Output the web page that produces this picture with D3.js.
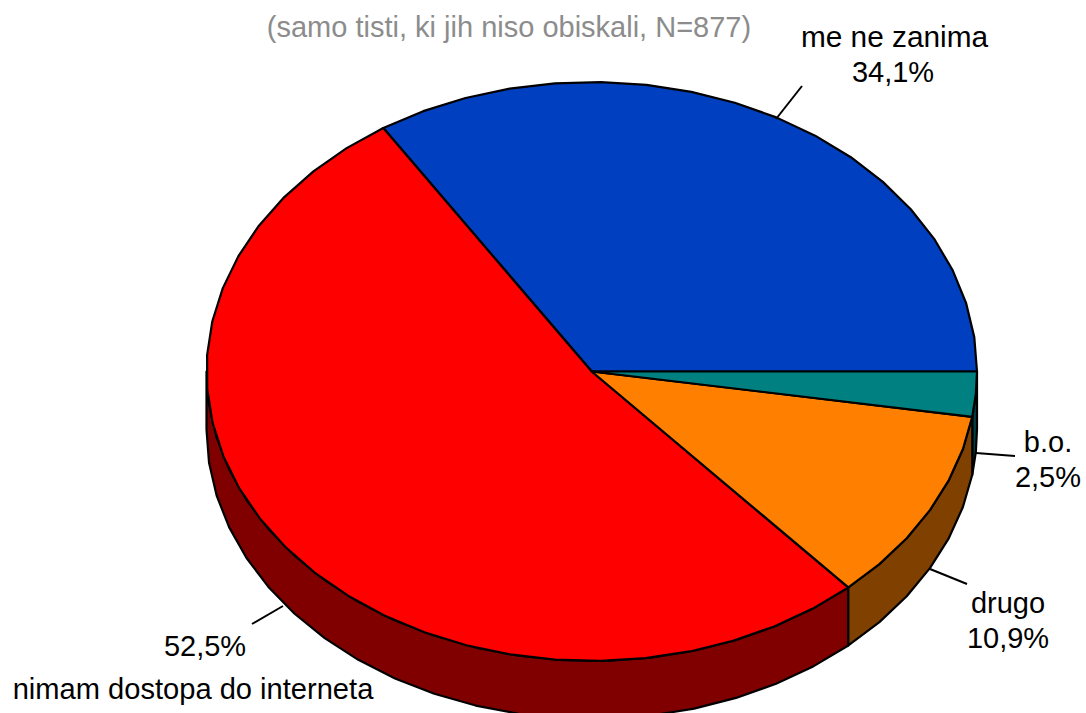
<!DOCTYPE html>
<html><head><meta charset="utf-8">
<script src="https://cdnjs.cloudflare.com/ajax/libs/d3/7.8.5/d3.min.js"></script>
<style>html,body{margin:0;padding:0;background:#fff}svg{display:block}text{font-family:"Liberation Sans",Arial,sans-serif}</style>
</head><body><svg id="c" width="1086" height="713"></svg>
<script>
const categories = ["me ne zanima","nimam dostopa do interneta","drugo","b.o."];
const values = [34.1,52.5,10.9,2.5];
const valueLabels = ["34,1%","52,5%","10,9%","2,5%"];
const topColors = ["#0040c0","#ff0000","#ff8000","#008080"];
const wallColors = ["#002060","#800000","#804000","#004040"];
const subtitle = "(samo tisti, ki jih niso obiskali, N=877)";

const svg = d3.select("#c");
const x = d3.scaleLinear().domain([-1,1]).range([206.5,977]);
const y = d3.scaleLinear().domain([-1,1]).range([661,82]);
const depth = 58, step = Math.PI/26;
const pie = d3.pie().sort(null).startAngle(0).endAngle(2*Math.PI)(values);
const ring = (a0,a1)=>{const n=Math.max(1,Math.ceil((a1-a0)/step));return d3.range(n+1).map(i=>a0+(a1-a0)*i/n);};
const line = d3.line();
const pt = (a,dy=0)=>[x(Math.cos(a)),y(Math.sin(a))+dy];

// walls (only the part of each slice on the near half)
const order=[1,3,2];
order.forEach(i=>{
  const p=pie[i];
  const a0=Math.max(p.startAngle,Math.PI), a1=p.endAngle;
  const as=ring(a0,a1);
  const pts=as.map(a=>pt(a)).concat(as.slice().reverse().map(a=>pt(a,depth)));
  svg.append("path").attr("d",line(pts)+"Z").attr("fill",wallColors[i])
    .attr("stroke","#000").attr("stroke-width",2.2).attr("stroke-linejoin","round");
});
// top faces
pie.forEach((p,i)=>{
  const pts=[[x(0),y(0)]].concat(ring(p.startAngle,p.endAngle).map(a=>pt(a)));
  svg.append("path").attr("d",line(pts)+"Z").attr("fill",topColors[i])
    .attr("stroke","#000").attr("stroke-width",2.2).attr("stroke-linejoin","round");
});
// leaders
[[[776,119],[802,86]],[[976,453],[1015,456]],[[930,569],[967,584]],[[283,606],[252,624]]].forEach(l=>{
  svg.append("path").attr("d",line(l)).attr("stroke","#000").attr("stroke-width",2).attr("fill","none");
});
const T=(s,cx,by,fill="#000",fs=29)=>svg.append("text").attr("x",cx).attr("y",by).attr("text-anchor","middle").attr("font-size",fs).attr("fill",fill).text(s);
T(subtitle,509,37,"#8c8c8c");
T(categories[0],894.5,47,"#000",29.8);T(valueLabels[0],893,82);
T(valueLabels[3],1048,487);T(categories[3],1048,452);
T(categories[2],1008,613);T(valueLabels[2],1008,648);
T(valueLabels[1],205,656);T(categories[1],193,699,"#000",29.1);
</script></body></html>
